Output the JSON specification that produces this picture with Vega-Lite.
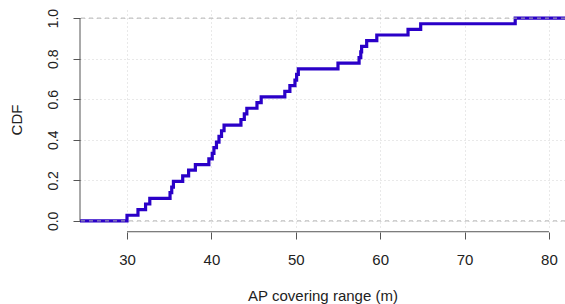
{
  "$schema": "https://vega.github.io/schema/vega-lite/v6.json",
  "width": 485,
  "height": 219,
  "autosize": {"type": "none"},
  "padding": {"left": 80, "top": 10, "right": 0, "bottom": 75},
  "background": "white",
  "config": {
    "view": {"stroke": null},
    "font": "Liberation Sans",
    "axis": {
      "labelFont": "Liberation Sans",
      "titleFont": "Liberation Sans",
      "labelFontSize": 13,
      "titleFontSize": 13,
      "titleFontWeight": "normal",
      "labelColor": "#222",
      "titleColor": "#222",
      "tickColor": "#555",
      "tickSize": 7,
      "domain": false,
      "grid": true,
      "gridColor": "#d3d3d3",
      "gridDash": [1, 3],
      "gridWidth": 1
    }
  },
  "datasets": {
    "ecdf": [
      {"range": 24.0, "cdf": 0},
      {"range": 30.0, "cdf": 0.0278},
      {"range": 31.3, "cdf": 0.0556},
      {"range": 32.2, "cdf": 0.0833},
      {"range": 32.7, "cdf": 0.1111},
      {"range": 35.1, "cdf": 0.1389},
      {"range": 35.3, "cdf": 0.1667},
      {"range": 35.5, "cdf": 0.1944},
      {"range": 36.6, "cdf": 0.2222},
      {"range": 37.3, "cdf": 0.25},
      {"range": 38.1, "cdf": 0.2778},
      {"range": 39.7, "cdf": 0.3056},
      {"range": 40.1, "cdf": 0.3333},
      {"range": 40.3, "cdf": 0.3611},
      {"range": 40.6, "cdf": 0.3889},
      {"range": 40.9, "cdf": 0.4167},
      {"range": 41.2, "cdf": 0.4444},
      {"range": 41.5, "cdf": 0.4722},
      {"range": 43.5, "cdf": 0.5},
      {"range": 43.9, "cdf": 0.5278},
      {"range": 44.2, "cdf": 0.5556},
      {"range": 45.4, "cdf": 0.5833},
      {"range": 45.9, "cdf": 0.6111},
      {"range": 48.7, "cdf": 0.6389},
      {"range": 49.3, "cdf": 0.6667},
      {"range": 49.9, "cdf": 0.6944},
      {"range": 50.1, "cdf": 0.7222},
      {"range": 50.3, "cdf": 0.75},
      {"range": 55.0, "cdf": 0.7778},
      {"range": 57.5, "cdf": 0.8056},
      {"range": 57.7, "cdf": 0.8333},
      {"range": 57.8, "cdf": 0.8611},
      {"range": 58.4, "cdf": 0.8889},
      {"range": 59.6, "cdf": 0.9167},
      {"range": 63.3, "cdf": 0.9444},
      {"range": 64.8, "cdf": 0.9722},
      {"range": 76.0, "cdf": 1.0},
      {"range": 83.0, "cdf": 1.0}
    ],
    "bounds": [{"h": 0}, {"h": 1}]
  },
  "layer": [
    {
      "data": {"name": "ecdf"},
      "mark": {"type": "line", "interpolate": "step-after", "clip": true, "color": "#2a00c8", "strokeWidth": 3.2},
      "encoding": {
        "x": {
          "field": "range",
          "type": "quantitative",
          "scale": {"domain": [24.43, 81.9], "nice": false, "zero": false},
          "axis": {
            "values": [30, 40, 50, 60, 70, 80],
            "offset": 3,
            "labelFontSize": 15,
            "titleFontSize": 15,
            "labelPadding": 13,
            "title": "AP covering range (m)",
            "titleBaseline": "alphabetic",
            "titleY": 68
          }
        },
        "y": {
          "field": "cdf",
          "type": "quantitative",
          "scale": {"domain": [-0.04, 1.04], "nice": false, "zero": false},
          "axis": {
            "values": [0, 0.2, 0.4, 0.6, 0.8, 1.0],
            "format": ".1f",
            "labelFontSize": 14,
            "labelAngle": 270,
            "labelAlign": "center",
            "labelBaseline": "bottom",
            "labelPadding": 13,
            "title": "CDF",
            "titleFontSize": 15,
            "titleAngle": 270,
            "titleBaseline": "alphabetic",
            "titleX": -59
          }
        }
      }
    },
    {
      "data": {"name": "bounds"},
      "mark": {"type": "rule", "color": "#b3b3b3", "strokeDash": [4, 4], "strokeWidth": 1},
      "encoding": {
        "y": {"field": "h", "type": "quantitative"}
      }
    },
    {
      "data": {"values": [{}]},
      "mark": {"type": "rule", "color": "#555", "strokeWidth": 1},
      "encoding": {
        "x": {"datum": 30},
        "x2": {"datum": 80},
        "y": {"datum": -0.0535}
      }
    },
    {
      "data": {"values": [{}]},
      "mark": {"type": "rule", "color": "#555", "strokeWidth": 1},
      "encoding": {
        "x": {"datum": 24.43},
        "y": {"datum": 0},
        "y2": {"datum": 1}
      }
    }
  ]
}
